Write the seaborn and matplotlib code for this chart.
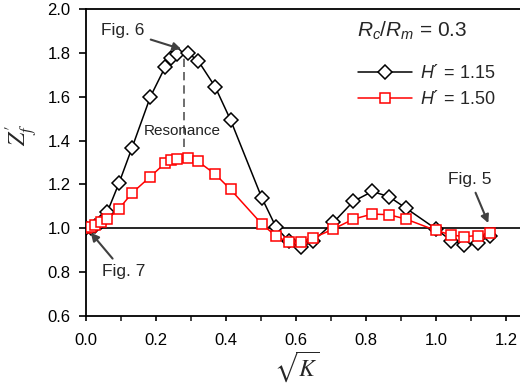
import numpy as np
import pandas as pd
import matplotlib
matplotlib.use("Agg")
import matplotlib.pyplot as plt
import seaborn as sns

sns.set_theme(style="ticks")
plt.rcParams['font.family'] = ['Liberation Sans', 'DejaVu Sans']
plt.rcParams['mathtext.fontset'] = 'custom'
plt.rcParams['mathtext.it'] = 'Liberation Sans:italic'
plt.rcParams['mathtext.rm'] = 'Liberation Sans'

# sqrt(K) values
sqrt_k = [0.0, 0.014, 0.026, 0.042, 0.061, 0.094, 0.131, 0.184, 0.226, 0.244,
          0.261, 0.29, 0.32, 0.369, 0.413, 0.502, 0.543, 0.58, 0.614, 0.648,
          0.707, 0.764, 0.818, 0.866, 0.914, 1.0, 1.043, 1.079, 1.119, 1.154]

# H' = 1.15
z_115 = [1.0, 1.003, 1.01, 1.03, 1.075, 1.205, 1.365, 1.60, 1.735, 1.776,
         1.795, 1.80, 1.765, 1.645, 1.494, 1.14, 1.005, 0.94, 0.915, 0.94,
         1.027, 1.123, 1.168, 1.144, 1.092, 0.997, 0.944, 0.926, 0.933, 0.967]

# H' = 1.50
z_150 = [1.0, 1.008, 1.015, 1.027, 1.042, 1.088, 1.16, 1.236, 1.297, 1.31,
         1.315, 1.32, 1.305, 1.247, 1.177, 1.02, 0.964, 0.936, 0.936, 0.955,
         0.997, 1.042, 1.065, 1.062, 1.042, 0.99, 0.97, 0.962, 0.967, 0.977]

labels = ["$H$\u00b4 = 1.15", "$H$\u00b4 = 1.50"]

fig = plt.figure(figsize=(5.2, 3.84), dpi=100)
ax = fig.add_axes([0.1654, 0.177, 0.8346, 0.7996])

ax.axhline(1.0, color="black", lw=1.2, zorder=1)

sns.lineplot(x=sqrt_k, y=z_115, ax=ax, color="black", lw=1.1, marker="D",
             markersize=7, markerfacecolor="white", markeredgecolor="black",
             markeredgewidth=1.1, label=labels[0], zorder=3)
sns.lineplot(x=sqrt_k, y=z_150, ax=ax, color="#ff0000", lw=1.1, marker="s",
             markersize=6.5, markerfacecolor="white", markeredgecolor="#ff0000",
             markeredgewidth=1.1, label=labels[1], zorder=4)

ax.set_xlim(0, 1.24)
ax.set_ylim(0.6, 2.0)
ax.set_xticks(np.arange(0, 1.21, 0.2))
ax.set_xticks(np.arange(0.1, 1.21, 0.2), minor=True)
ax.set_yticks(np.arange(0.6, 2.01, 0.2))
ax.xaxis.set_major_formatter(matplotlib.ticker.FormatStrFormatter("%.1f"))
ax.yaxis.set_major_formatter(matplotlib.ticker.FormatStrFormatter("%.1f"))
ax.tick_params(axis="both", which="major", labelsize=12, colors="black", width=1.2)
ax.tick_params(axis="y", length=5, pad=6)
ax.tick_params(axis="x", which="both", length=3.5, width=1.2, pad=9)
for s in ["left", "bottom", "top"]:
    ax.spines[s].set_linewidth(1.3)
    ax.spines[s].set_color("black")
ax.spines["right"].set_visible(False)

ax.set_ylabel(r"$Z_f^{\prime}$", fontsize=17, math_fontfamily="stix")
ax.yaxis.set_label_coords(-0.105, 0.59)
ax.set_xlabel(r"$\sqrt{K}$", fontsize=17, math_fontfamily="stix")
ax.xaxis.set_label_coords(0.486, -0.108)

# resonance marker
ax.vlines(0.28, 1.37, 1.8, color="#555555", lw=1.2, linestyles=(0, (5, 3)), zorder=2)
ax.text(0.276, 1.445, "Resonance", fontsize=11, ha="center", va="center",
        color="#222222", zorder=5)

arrow = dict(arrowstyle="-|>", color="#404040", lw=1.5, mutation_scale=12,
             shrinkA=2, shrinkB=1)
ax.annotate("Fig. 6", xy=(0.276, 1.815), xytext=(0.106, 1.90), fontsize=12.5,
            ha="center", va="center", arrowprops=arrow)
ax.annotate("Fig. 7", xy=(0.011, 0.985), xytext=(0.107, 0.803), fontsize=12.5,
            ha="center", va="center", arrowprops=arrow)
ax.annotate("Fig. 5", xy=(1.151, 1.018), xytext=(1.097, 1.223), fontsize=12.5,
            ha="center", va="center", arrowprops=arrow)

ax.text(0.931, 1.90, r"$R_c/R_m$ = 0.3", fontsize=15, ha="center", va="center")

ax.legend(loc="upper left", bbox_to_anchor=(0.627, 0.82), frameon=False,
          fontsize=13, handlelength=3, handletextpad=0.45, labelspacing=0.45,
          borderpad=0, borderaxespad=0, numpoints=1)

fig.savefig("out.png", dpi=100)
